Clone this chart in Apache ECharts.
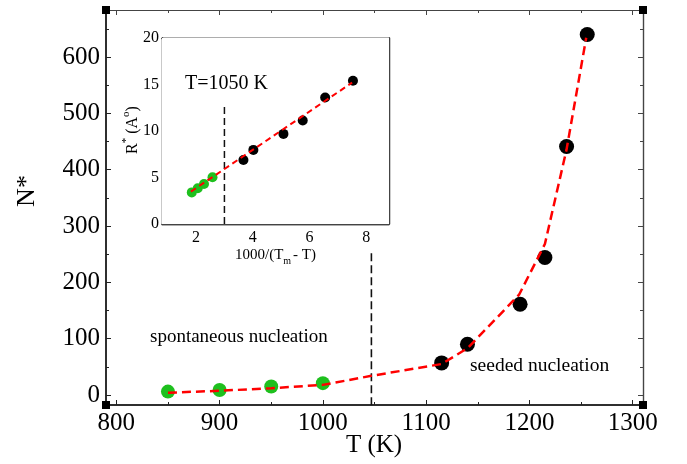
<!DOCTYPE html>
<html>
<head>
<meta charset="utf-8">
<script src="https://cdn.jsdelivr.net/npm/echarts@6/dist/echarts.min.js"></script>
<style>html,body{margin:0;padding:0;background:#fff}#c{width:687px;height:464px}</style>
</head>
<body>
<div id="c"></div>
<script>
// ---- Main panel data: N* vs T (K)
const mainGreenT = [850, 900, 950, 1000];
const mainGreenN = [6, 9, 15, 21];
const mainBlackT = [1115, 1140, 1191, 1215, 1236, 1256];
const mainBlackN = [57, 90, 161, 244, 441, 640];
const mainFitT = [850, 900, 950, 1000, 1047, 1115, 1140, 1190, 1215, 1236, 1255];
const mainFitN = [4, 7.5, 12, 18, 34, 55, 83, 178, 268, 436, 634];
const mainDivT = [1047, 1047];
const mainDivN = [-18, 254];
const mainXLabels = [800, 900, 1000, 1100, 1200, 1300];
const mainXMinor = [850, 950, 1050, 1150, 1250];
const mainYLabels = [0, 100, 200, 300, 400, 500, 600];
const mainYMinor = [50, 150, 250, 350, 450, 550, 650];

// ---- Inset data: R* vs 1000/(Tm - T)
const insGreenX = [1.85, 2.06, 2.28, 2.58];
const insGreenR = [3.4, 3.84, 4.3, 5.03];
const insBlackX = [3.67, 4.02, 5.08, 5.76, 6.55, 7.53];
const insBlackR = [6.89, 7.97, 9.69, 11.13, 13.6, 15.4];
const insFitX = [1.82, 7.5];
const insFitR = [3.48, 15.2];
const insDivX = [3, 3];
const insDivR = [0, 12.8];
const insXLabels = [2, 4, 6, 8];
const insXMinor = [1, 3, 5, 7];
const insYLabels = [0, 5, 10, 15, 20];
const insYMinor = [2.5, 7.5, 12.5, 17.5];

const zip = (a, b) => a.map((v, i) => [v, b[i]]);
const SERIF = "'Liberation Serif','DejaVu Serif',serif";
const GREEN = '#1ec01e';

function axis(grid, pos, min, max, ticks, len, lineCol, lineW, label) {
  return {
    type: 'value', gridIndex: grid, position: pos, min: min, max: max,
    axisLine: {show: true, onZero: false, lineStyle: {color: lineCol, width: lineW}},
    axisTick: {show: true, inside: true, length: len, customValues: ticks,
               lineStyle: {color: lineCol, width: 1}},
    axisLabel: label ? Object.assign({show: true, customValues: ticks, color: '#000',
               fontFamily: SERIF, formatter: v => String(v)}, label) : {show: false},
    splitLine: {show: false}
  };
}

const xAxes = [
  axis(0, 'bottom', 790, 1310, mainXLabels, 5, '#222', 1.5, {fontSize: 25, margin: 6}),
  axis(0, 'bottom', 790, 1310, mainXMinor, 3, '#222', 1.5, null),
  axis(0, 'top', 790, 1310, mainXLabels, 5, '#444', 1.2, null),
  axis(0, 'top', 790, 1310, mainXMinor, 3, '#444', 1.2, null),
  axis(1, 'bottom', 0.8, 8.8, insXLabels, 5, '#444', 1.3, {fontSize: 16, margin: 6}),
  axis(1, 'bottom', 0.8, 8.8, insXMinor, 3, '#444', 1.3, null),
  axis(1, 'top', 0.8, 8.8, insXLabels, 5, '#444', 1.3, null),
  axis(1, 'top', 0.8, 8.8, insXMinor, 3, '#444', 1.3, null)
];
const yAxes = [
  axis(0, 'left', -17.75, 683.4, mainYLabels, 5, '#222', 1.5, {fontSize: 25, margin: 6}),
  axis(0, 'left', -17.75, 683.4, mainYMinor, 3, '#222', 1.5, null),
  axis(0, 'right', -17.75, 683.4, mainYLabels, 5, '#444', 1.2, null),
  axis(0, 'right', -17.75, 683.4, mainYMinor, 3, '#444', 1.2, null),
  axis(1, 'left', 0, 20, insYLabels, 5, '#444', 1.3, {fontSize: 16, margin: 3}),
  axis(1, 'left', 0, 20, insYMinor, 3, '#444', 1.3, null),
  axis(1, 'right', 0, 20, insYLabels, 5, '#444', 1.3, null),
  axis(1, 'right', 0, 20, insYMinor, 3, '#444', 1.3, null)
];

const corner = (x, y) => ({type: 'rect', shape: {x: x - 4, y: y - 4, width: 8, height: 8},
  style: {fill: '#000'}, z: 100});

const option = {
  animation: false,
  backgroundColor: '#fff',
  grid: [
    {left: 106, top: 10, width: 537, height: 395, show: false},
    {left: 162, top: 38, width: 227, height: 186, show: true, backgroundColor: '#fff',
     borderWidth: 0, z: 5}
  ],
  xAxis: xAxes,
  yAxis: yAxes,
  series: [
    {type: 'line', xAxisIndex: 0, yAxisIndex: 0, data: zip(mainDivT, mainDivN), symbol: 'none',
     lineStyle: {color: '#111', width: 1.6, type: [8, 4]}},
    {type: 'scatter', xAxisIndex: 0, yAxisIndex: 0, data: zip(mainGreenT, mainGreenN),
     symbolSize: 14, itemStyle: {color: GREEN, opacity: 1}},
    {type: 'scatter', xAxisIndex: 0, yAxisIndex: 0, data: zip(mainBlackT, mainBlackN),
     symbolSize: 15, itemStyle: {color: '#000', opacity: 1}},
    {type: 'line', xAxisIndex: 0, yAxisIndex: 0, data: zip(mainFitT, mainFitN), symbol: 'none',
     lineStyle: {color: '#ff0000', width: 2.5, type: [9, 5]}},
    {type: 'line', xAxisIndex: 4, yAxisIndex: 4, data: zip(insDivX, insDivR), symbol: 'none', z: 10,
     lineStyle: {color: '#111', width: 1.5, type: [7, 4]}},
    {type: 'scatter', xAxisIndex: 4, yAxisIndex: 4, data: zip(insGreenX, insGreenR), z: 10,
     symbolSize: 10, itemStyle: {color: GREEN, opacity: 1}},
    {type: 'scatter', xAxisIndex: 4, yAxisIndex: 4, data: zip(insBlackX, insBlackR), z: 10,
     symbolSize: 10, itemStyle: {color: '#000', opacity: 1}},
    {type: 'line', xAxisIndex: 4, yAxisIndex: 4, data: zip(insFitX, insFitR), symbol: 'none', z: 11,
     lineStyle: {color: '#ff0000', width: 2, type: [6, 4]}}
  ],
  graphic: [
    corner(106, 10), corner(643, 10), corner(106, 405), corner(643, 405),
    {type: 'text', x: 27, y: 191, rotation: Math.PI / 2,
     style: {text: 'N*', fontSize: 26, fontFamily: SERIF, fill: '#000', align: 'center', verticalAlign: 'middle'}},
    {type: 'text', x: 374, y: 445,
     style: {text: 'T (K)', fontSize: 25, fontFamily: SERIF, fill: '#000', align: 'center', verticalAlign: 'middle'}},
    {type: 'text', x: 150, y: 337,
     style: {text: 'spontaneous nucleation', fontSize: 19, fontFamily: SERIF, fill: '#000', align: 'left', verticalAlign: 'middle'}},
    {type: 'text', x: 470, y: 366,
     style: {text: 'seeded nucleation', fontSize: 19.5, fontFamily: SERIF, fill: '#000', align: 'left', verticalAlign: 'middle'}},
    {type: 'text', x: 185, y: 84, z: 20,
     style: {text: 'T=1050 K', fontSize: 20, fontFamily: SERIF, fill: '#000', align: 'left', verticalAlign: 'middle'}},
    {type: 'text', x: 275.5, y: 257, z: 20,
     style: {text: '{n|1000/(T}{s|m}{n|- T)}', align: 'center', verticalAlign: 'middle',
       rich: {n: {fontSize: 15, fontFamily: SERIF, fill: '#000', lineHeight: 18, verticalAlign: 'top'},
              s: {fontSize: 10, fontFamily: SERIF, fill: '#000', lineHeight: 18, verticalAlign: 'bottom', padding: [0, 2, 0, 0]}}}},
    {type: 'text', x: 131, y: 130, rotation: Math.PI / 2, z: 20,
     style: {text: '{n|R}{s|*}{n| (A}{s|o}{n|)}', align: 'center', verticalAlign: 'middle',
       rich: {n: {fontSize: 16, fontFamily: SERIF, fill: '#000', lineHeight: 20, verticalAlign: 'bottom'},
              s: {fontSize: 11, fontFamily: SERIF, fill: '#000', lineHeight: 20, verticalAlign: 'top'}}}}
  ]
};
echarts.init(document.getElementById('c')).setOption(option);
</script>
</body>
</html>
